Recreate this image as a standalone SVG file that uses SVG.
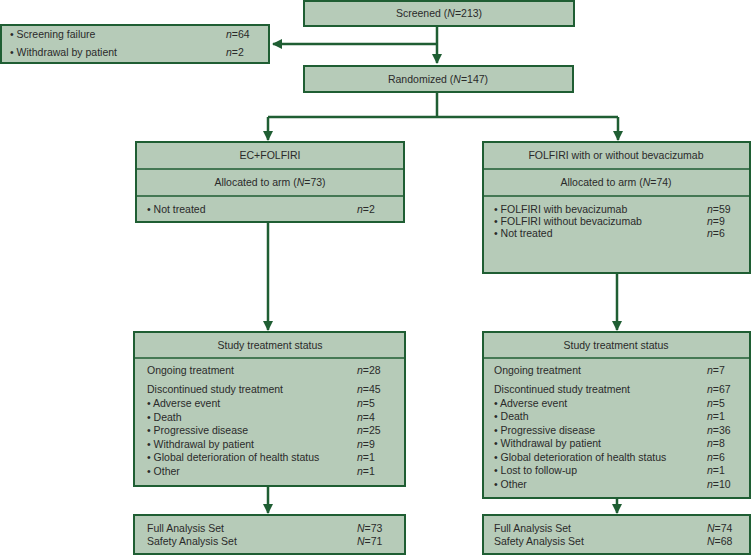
<svg xmlns="http://www.w3.org/2000/svg" width="753" height="556" viewBox="0 0 753 556">
<defs>
<style>
.b{fill:#b6cbb8;stroke:#1f5e33;stroke-width:2}
.l{stroke:#1f5e33;stroke-width:1.6;fill:none}
.c{stroke:#1f5e33;stroke-width:2.5;fill:none}
text{font-family:"Liberation Sans",Arial,sans-serif;font-size:10.5px;fill:#2a2a2a}
.m{text-anchor:middle}
</style>
<marker id="a" viewBox="0 0 10 10" refX="9" refY="5" markerWidth="4" markerHeight="4" orient="auto"><path d="M0,0L10,5L0,10z" fill="#1f5e33"/></marker>
</defs>
<g id="connectors">
<path class="c" d="M437,26V63" marker-end="url(#a)"/>
<path class="c" d="M437,44H273" marker-end="url(#a)"/>
<path class="c" d="M437,92V117M268,117H618"/>
<path class="c" d="M268,117V140" marker-end="url(#a)"/>
<path class="c" d="M618,117V140" marker-end="url(#a)"/>
<path class="c" d="M268,222V330" marker-end="url(#a)"/>
<path class="c" d="M617,273V330" marker-end="url(#a)"/>
<path class="c" d="M268,486V513" marker-end="url(#a)"/>
<path class="c" d="M617,498V513" marker-end="url(#a)"/>
</g>
<g id="screened"><rect class="b" x="304" y="1" width="270" height="25"/><text class="m" x="439" y="17">Screened (<tspan font-style="italic">N</tspan>=213)</text></g>
<g id="excluded"><rect class="b" x="1" y="25" width="268" height="38"/>
<text x="10" y="38">• Screening failure</text><text x="226" y="38"><tspan font-style="italic">n</tspan>=64</text>
<text x="10" y="56">• Withdrawal by patient</text><text x="226" y="56"><tspan font-style="italic">n</tspan>=2</text></g>
<g id="randomized"><rect class="b" x="304" y="66" width="269" height="26"/><text class="m" x="438" y="83">Randomized (<tspan font-style="italic">N</tspan>=147)</text></g>
<g id="arm1"><rect class="b" x="136" y="142" width="268" height="80"/><path class="l" d="M136,169H404M136,196H404"/>
<text class="m" x="270" y="159">EC+FOLFIRI</text>
<text class="m" x="270" y="186">Allocated to arm (<tspan font-style="italic">N</tspan>=73)</text>
<text x="147" y="213">• Not treated</text><text x="357" y="213"><tspan font-style="italic">n</tspan>=2</text></g>
<g id="arm2"><rect class="b" x="483" y="142" width="267" height="131"/><path class="l" d="M483,169H750M483,196H750"/>
<text class="m" x="616" y="159">FOLFIRI with or without bevacizumab</text>
<text class="m" x="616" y="186">Allocated to arm (<tspan font-style="italic">N</tspan>=74)</text>
<text x="494" y="213">• FOLFIRI with bevacizumab</text><text x="707" y="213"><tspan font-style="italic">n</tspan>=59</text>
<text x="494" y="225">• FOLFIRI without bevacizumab</text><text x="707" y="225"><tspan font-style="italic">n</tspan>=9</text>
<text x="494" y="237">• Not treated</text><text x="707" y="237"><tspan font-style="italic">n</tspan>=6</text></g>
<g id="status1"><rect class="b" x="134" y="332" width="271" height="154"/><path class="l" d="M134,358H405"/>
<text class="m" x="270" y="349">Study treatment status</text>
<text x="147" y="374">Ongoing treatment</text><text x="357" y="374"><tspan font-style="italic">n</tspan>=28</text>
<text x="147" y="393">Discontinued study treatment</text><text x="357" y="393"><tspan font-style="italic">n</tspan>=45</text>
<text x="147" y="407">• Adverse event</text><text x="357" y="407"><tspan font-style="italic">n</tspan>=5</text>
<text x="147" y="421">• Death</text><text x="357" y="421"><tspan font-style="italic">n</tspan>=4</text>
<text x="147" y="434">• Progressive disease</text><text x="357" y="434"><tspan font-style="italic">n</tspan>=25</text>
<text x="147" y="448">• Withdrawal by patient</text><text x="357" y="448"><tspan font-style="italic">n</tspan>=9</text>
<text x="147" y="461">• Global deterioration of health status</text><text x="357" y="461"><tspan font-style="italic">n</tspan>=1</text>
<text x="147" y="475">• Other</text><text x="357" y="475"><tspan font-style="italic">n</tspan>=1</text></g>
<g id="status2"><rect class="b" x="483" y="332" width="267" height="166"/><path class="l" d="M483,358H750"/>
<text class="m" x="616" y="349">Study treatment status</text>
<text x="494" y="374">Ongoing treatment</text><text x="707" y="374"><tspan font-style="italic">n</tspan>=7</text>
<text x="494" y="393">Discontinued study treatment</text><text x="707" y="393"><tspan font-style="italic">n</tspan>=67</text>
<text x="494" y="407">• Adverse event</text><text x="707" y="407"><tspan font-style="italic">n</tspan>=5</text>
<text x="494" y="420">• Death</text><text x="707" y="420"><tspan font-style="italic">n</tspan>=1</text>
<text x="494" y="434">• Progressive disease</text><text x="707" y="434"><tspan font-style="italic">n</tspan>=36</text>
<text x="494" y="447">• Withdrawal by patient</text><text x="707" y="447"><tspan font-style="italic">n</tspan>=8</text>
<text x="494" y="461">• Global deterioration of health status</text><text x="707" y="461"><tspan font-style="italic">n</tspan>=6</text>
<text x="494" y="474">• Lost to follow-up</text><text x="707" y="474"><tspan font-style="italic">n</tspan>=1</text>
<text x="494" y="488">• Other</text><text x="707" y="488"><tspan font-style="italic">n</tspan>=10</text></g>
<g id="sets1"><rect class="b" x="134" y="515" width="271" height="39"/>
<text x="147" y="532">Full Analysis Set</text><text x="357" y="532"><tspan font-style="italic">N</tspan>=73</text>
<text x="147" y="545">Safety Analysis Set</text><text x="357" y="545"><tspan font-style="italic">N</tspan>=71</text></g>
<g id="sets2"><rect class="b" x="483" y="515" width="267" height="39"/>
<text x="494" y="532">Full Analysis Set</text><text x="707" y="532"><tspan font-style="italic">N</tspan>=74</text>
<text x="494" y="545">Safety Analysis Set</text><text x="707" y="545"><tspan font-style="italic">N</tspan>=68</text></g>
</svg>
